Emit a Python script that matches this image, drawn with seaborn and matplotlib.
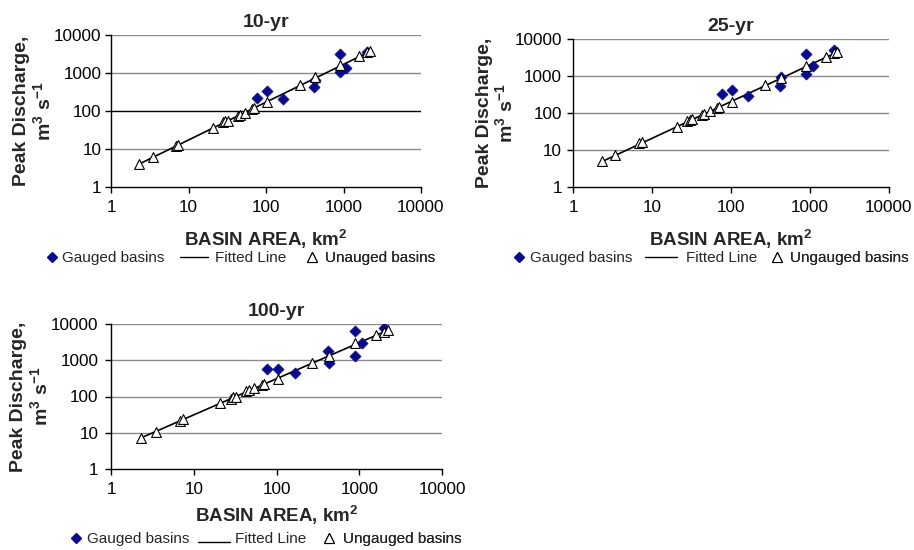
import numpy as np
import pandas as pd
import matplotlib
matplotlib.use("Agg")
import matplotlib.pyplot as plt
from matplotlib.lines import Line2D
from matplotlib.legend_handler import HandlerLine2D
from matplotlib.ticker import LogLocator, FuncFormatter, NullLocator
import seaborn as sns

# ---------------- data ----------------
panel_titles = ["10-yr", "25-yr", "100-yr"]
legend_labels = [
    ["Gauged basins", "Fitted Line", "Unauged basins"],
    ["Gauged basins", "Fitted Line", "Ungauged basins"],
    ["Gauged basins", "Fitted Line", "Ungauged basins"],
]

gauged_area = [77, 103, 166, 420, 433, 900, 900, 1080, 2000]
gauged_q10 = [226, 326, 208, 424, 660, 3100, 1090, 1390, 3650]
gauged_q25 = [327, 410, 282, 550, 920, 3900, 1150, 1820, 4900]
gauged_q100 = [562, 562, 455, 1770, 820, 6400, 1310, 2930, 7600]

ungauged_area = [2.3, 3.45, 6.9, 7.4, 20.7, 28, 30, 32, 43, 46, 54, 66, 70,
                 103, 272, 433, 900, 1600, 2000, 2200]
ungauged_q10 = [4.0, 6.0, 12, 12.8, 35, 50, 53, 56, 74, 79, 91, 115, 122,
                177, 488, 775, 1630, 2820, 3500, 3800]
ungauged_q25 = [4.9, 7.2, 15, 16, 42, 60, 64, 68, 90, 96, 113, 140, 148,
                200, 585, 900, 1900, 3300, 4100, 4500]
ungauged_q100 = [7.0, 10.5, 20.5, 23.5, 66, 88, 94, 100, 138, 148, 170, 208, 220,
                 305, 860, 1280, 2900, 4900, 6200, 6700]

fit_area = [2.3, 2200]
fit_q10 = [4.0, 3700]
fit_q25 = [4.8, 4400]
fit_q100 = [7.2, 6700]

tick_values = [1, 10, 100, 1000, 10000]

# ---------------- style ----------------
sns.set_style("white")
plt.rcParams["font.family"] = ["Liberation Sans", "DejaVu Sans"]
plt.rcParams["mathtext.fontset"] = "custom"
plt.rcParams["mathtext.rm"] = "Liberation Sans"
plt.rcParams["mathtext.bf"] = "Liberation Sans:bold"
plt.rcParams["mathtext.it"] = "Liberation Sans:italic"

W, H = 914, 550
fig = plt.figure(figsize=(W / 100, H / 100), dpi=100)

# axes rectangles in pixels: left, top, right, bottom
axes_px = [(111, 35, 421, 187), (573, 39, 889, 187), (111, 324, 442, 469)]
xlabel_pads = [10, 10, 5]
ylabel_pads = [0, -1.5, 0]
ytick_pads = [3, 4, 5]

# legend layout in pixels: y centre, and per entry (handle start, handle length, pad)
legend_y = [258, 258, 539]
legend_entries_px = [
    [(47, 10, 5), (180, 28, 7), (306, 12, 7)],
    [(514, 10, 6), (645, 32, 9), (771, 12, 7)],
    [(71, 10, 6), (198, 32, 5), (323, 12, 8)],
]
low_line = [False, False, True]

gauged_sets = [gauged_q10, gauged_q25, gauged_q100]
ungauged_sets = [ungauged_q10, ungauged_q25, ungauged_q100]
fit_sets = [fit_q10, fit_q25, fit_q100]

gauged_color = "#0a0a8c"
leg_fs = 11
leg_px = leg_fs * 100 / 72


class LowLineHandler(HandlerLine2D):
    def create_artists(self, legend, orig_handle, xdescent, ydescent, width,
                       height, fontsize, trans):
        arts = super().create_artists(legend, orig_handle, xdescent, ydescent,
                                      width, height, fontsize, trans)
        for a in arts:
            a.set_ydata(np.asarray(a.get_ydata()) - 0.42 * height)
        return arts


for i in range(3):
    l, t, r, b = axes_px[i]
    ax = fig.add_axes([l / W, 1 - b / H, (r - l) / W, (b - t) / H])
    dg = pd.DataFrame({"area": gauged_area, "q": gauged_sets[i]})
    du = pd.DataFrame({"area": ungauged_area, "q": ungauged_sets[i]})
    df = pd.DataFrame({"area": fit_area, "q": fit_sets[i]})

    ax.set_xscale("log")
    ax.set_yscale("log")
    ax.set_xlim(1, 10000)
    ax.set_ylim(1, 10000)

    for yv in tick_values[1:]:
        col = "black" if (i == 0 and yv == 100) else "#8a8a8a"
        ax.axhline(yv, color=col, lw=1.0, zorder=0)

    sns.lineplot(data=df, x="area", y="q", ax=ax, color="black", lw=1.2,
                 zorder=2, legend=False)
    sns.scatterplot(data=dg, x="area", y="q", ax=ax, marker="D", s=32,
                    color=gauged_color, edgecolor=gauged_color, linewidth=0.5,
                    zorder=3, legend=False)
    sns.scatterplot(data=du, x="area", y="q", ax=ax, marker="^", s=50,
                    facecolor="white", edgecolor="black", linewidth=0.8,
                    zorder=4, legend=False)

    ax.xaxis.set_major_locator(LogLocator(base=10, numticks=10))
    ax.yaxis.set_major_locator(LogLocator(base=10, numticks=10))
    ax.xaxis.set_minor_locator(NullLocator())
    ax.yaxis.set_minor_locator(NullLocator())
    fmt = FuncFormatter(lambda v, p: f"{int(round(v))}")
    ax.xaxis.set_major_formatter(fmt)
    ax.yaxis.set_major_formatter(fmt)
    ax.tick_params(axis="both", which="major", labelsize=12.3, direction="out",
                   length=4, width=1, colors="black", left=True, bottom=True)
    ax.tick_params(axis="x", pad=5)
    ax.tick_params(axis="y", pad=ytick_pads[i])

    for side in ["top", "right"]:
        ax.spines[side].set_visible(False)
    for side in ["left", "bottom"]:
        ax.spines[side].set_color("black")
        ax.spines[side].set_linewidth(1.0)

    ax.set_title(panel_titles[i], fontsize=14, fontweight="bold", pad=6)
    ax.set_xlabel(r"BASIN AREA, km$^{\mathbf{2}}$", fontsize=13.5,
                  fontweight="bold", labelpad=xlabel_pads[i])
    ax.set_ylabel("Peak Discharge,\n" + r"m$^{\mathbf{3}}$ s$^{\mathbf{-1}}$",
                  fontsize=14, fontweight="bold", labelpad=ylabel_pads[i],
                  linespacing=1.1)

    handles = [
        Line2D([], [], marker="D", ls="none", color=gauged_color,
               markersize=5.5),
        Line2D([], [], color="black", lw=1.0),
        Line2D([], [], marker="^", ls="none", markerfacecolor="white",
               markeredgecolor="black", markersize=7, markeredgewidth=0.8),
    ]
    for k in range(3):
        x0, hl, pad = legend_entries_px[i][k]
        hmap = {}
        if k == 1 and low_line[i]:
            hmap = {handles[k]: LowLineHandler()}
        leg = ax.legend([handles[k]], [legend_labels[i][k]], loc="center left",
                        bbox_to_anchor=(x0 / W, 1 - legend_y[i] / H),
                        bbox_transform=fig.transFigure, frameon=False,
                        fontsize=leg_fs, handlelength=hl / leg_px,
                        handletextpad=pad / leg_px, borderpad=0,
                        borderaxespad=0, handler_map=hmap)
        ax.add_artist(leg)

fig.savefig("out.png", dpi=100)
